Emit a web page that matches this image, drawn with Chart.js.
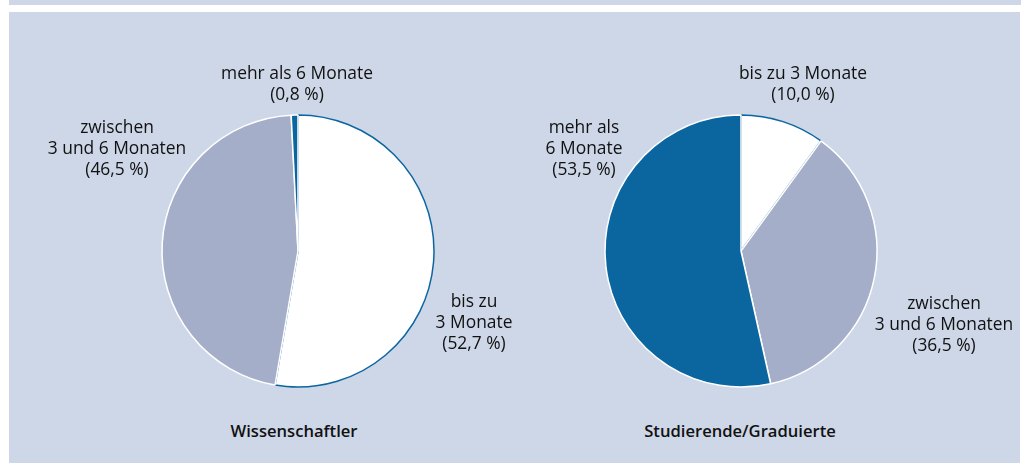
<!DOCTYPE html>
<html>
<head>
<meta charset="utf-8">
<script src="https://cdn.jsdelivr.net/npm/chart.js@4.4.1/dist/chart.umd.min.js"></script>
<style>
  html, body { margin:0; padding:0; width:1021px; height:463px; overflow:hidden; background:#ffffff; }
  #strip { position:absolute; left:9px; top:0; width:1012px; height:5px; background:#cdd7e7; }
  #panel { position:absolute; left:9px; top:12px; width:1011px; height:451px; background:#cdd7e7; }
  canvas { position:absolute; }
  .lbl { position:absolute; transform:translateX(-50%); text-align:center; white-space:nowrap;
         font-family:"Open Sans", sans-serif; font-size:17.4px; line-height:21px; color:#111111; }
  .ttl { position:absolute; transform:translateX(-50%); text-align:center; white-space:nowrap;
         font-family:"Open Sans", sans-serif; font-weight:600; font-size:16.6px; line-height:20px; color:#111111; }
</style>
</head>
<body>
<div id="strip"></div>
<div id="panel"></div>
<canvas id="c1" width="300" height="300" style="left:147.5px; top:101px;"></canvas>
<canvas id="c2" width="300" height="300" style="left:591px; top:101px;"></canvas>
<div id="labels"></div>
<script>
// ---- data ----
const categories = ['bis zu 3 Monate', 'zwischen 3 und 6 Monaten', 'mehr als 6 Monate'];
const wissenschaftlerValues = [52.7, 46.5, 0.8];
const studierendeValues = [10.0, 36.5, 53.5];
const groupTitles = ['Wissenschaftler', 'Studierende/Graduierte'];
// label line breaks per chart
const wissenschaftlerLabelLines = [['bis zu', '3 Monate'], ['zwischen', '3 und 6 Monaten'], ['mehr als 6 Monate']];
const studierendeLabelLines = [['bis zu 3 Monate'], ['zwischen', '3 und 6 Monaten'], ['mehr als', '6 Monate']];

// ---- style ----
const sliceColors = ['#ffffff', '#a4aec9', '#0b66a0'];
const sliceBorders = ['#0b66a0', '#ffffff', '#ffffff'];
const labelPos = [
  [{x:474, y:289.5}, {x:117, y:115.5}, {x:297, y:61.5}],
  [{x:803, y:61.5},  {x:944, y:291.5}, {x:584, y:115.5}]
];
const titlePos = [{x:294, y:421}, {x:740, y:421}];

function fmt(v){ return '(' + v.toFixed(1).replace('.', ',') + '\u00a0%)'; }

function makePie(id, values){
  return new Chart(document.getElementById(id), {
    type: 'pie',
    data: {
      labels: categories,
      datasets: [{
        data: values,
        backgroundColor: sliceColors,
        borderColor: sliceBorders,
        borderWidth: 1.5,
        radius: 136
      }]
    },
    options: {
      responsive: false,
      animation: false,
      devicePixelRatio: 1,
      rotation: 0,
      layout: { padding: 0 },
      plugins: { legend: { display:false }, tooltip: { enabled:false }, title: { display:false } }
    }
  });
}
makePie('c1', wissenschaftlerValues);
makePie('c2', studierendeValues);

const host = document.getElementById('labels');
[[wissenschaftlerValues, wissenschaftlerLabelLines], [studierendeValues, studierendeLabelLines]].forEach(([vals, lines], ci) => {
  vals.forEach((v, i) => {
    const d = document.createElement('div');
    d.className = 'lbl';
    d.style.left = labelPos[ci][i].x + 'px';
    d.style.top = labelPos[ci][i].y + 'px';
    d.innerHTML = lines[i].concat([fmt(v)]).join('<br>');
    host.appendChild(d);
  });
  const t = document.createElement('div');
  t.className = 'ttl';
  t.style.left = titlePos[ci].x + 'px';
  t.style.top = titlePos[ci].y + 'px';
  t.textContent = groupTitles[ci];
  host.appendChild(t);
});
</script>
</body>
</html>
